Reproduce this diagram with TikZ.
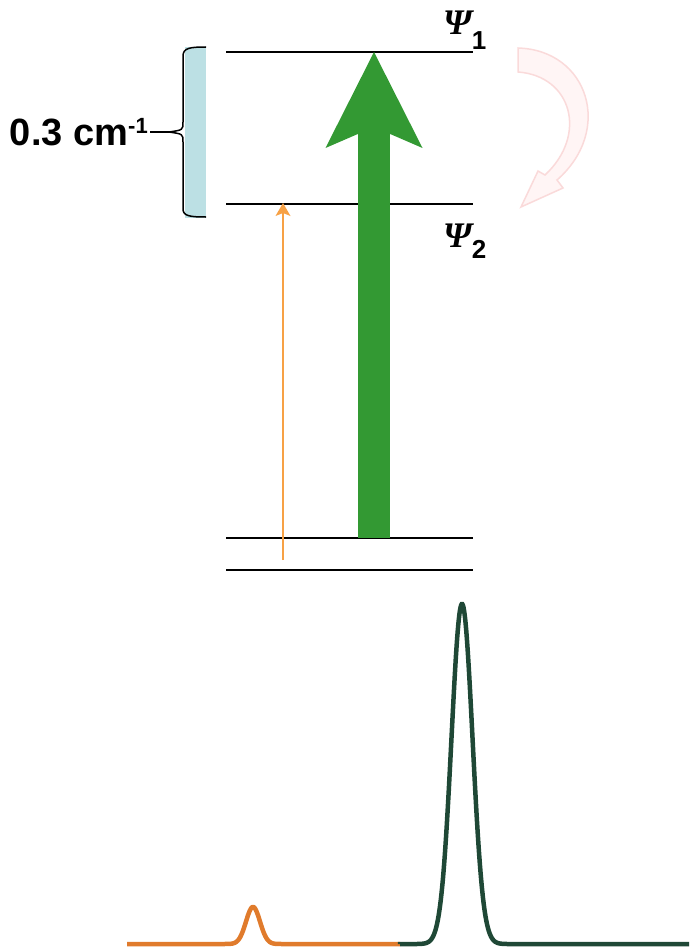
\documentclass[tikz,border=0pt]{standalone}
\usepackage{fontspec}
\setmainfont{Liberation Sans}
\newfontfamily\psifont{Liberation Serif}
\usepackage{tikz}
\usetikzlibrary{
    positioning,
    arrows.meta
}
\definecolor{verdeflecha}{HTML}{339933}
\definecolor{naranjaflecha}{HTML}{F7A145}
\definecolor{azulllave}{HTML}{BCE0E4}
\definecolor{rosafondo}{HTML}{FFF5F5}
\definecolor{rosaborde}{HTML}{FADADA}
\definecolor{naranjaesp}{HTML}{E07B2C}
\definecolor{verdeesp}{HTML}{1F4836}
\tikzset{
    nivel/.style={
        line width=2pt
    },
    etiqueta/.style={
        inner sep=0pt,
        font=\bfseries
    }
}

\begin{document}
\begin{tikzpicture}[
    x=1pt,
    y=-1pt
]
    \useasboundingbox (0,0) rectangle (689,950);

    % Niveles
    \coordinate (n1a) at (226,52);
    \coordinate (n1b) at (473,52);
    \coordinate (n2a) at (226,204);
    \coordinate (n2b) at (473,204);
    \coordinate (n3a) at (226,538);
    \coordinate (n3b) at (473,538);
    \coordinate (n4a) at (226,570);
    \coordinate (n4b) at (473,570);

    \draw[nivel] (n1a) -- (n1b);
    \draw[nivel] (n2a) -- (n2b);
    \draw[nivel] (n3a) -- (n3b);
    \draw[nivel] (n4a) -- (n4b);

    % Etiquetas
    \node[etiqueta, anchor=base west] (psi1) at (443,35)
        {{\psifont\fontsize{36}{36}\selectfont\bfseries\itshape Ψ}\raisebox{-15pt}{\fontsize{26}{26}\selectfont 1}};
    \node[etiqueta, anchor=base west] (psi2) at (443,247)
        {{\psifont\fontsize{36}{36}\selectfont\bfseries\itshape Ψ}\raisebox{-11pt}{\fontsize{26}{26}\selectfont 2}};

    % Llave
    \fill[azulllave] (185,47) rectangle (206,218);
    \coordinate (punta) at (169,132);
    \draw[line width=1.5pt]
        (206,47) .. controls (190,47) and (183,48) .. (183,56)
        -- (183,122) .. controls (183,130) .. (punta)
        .. controls (183,134) .. (183,142)
        -- (183,209) .. controls (183,216) and (190,217) .. (206,217);
    \node[etiqueta, anchor=base east] (ancho) at (148,145)
        {\fontsize{38}{38}\selectfont 0.3 cm\raisebox{12pt}{\fontsize{22}{22}\selectfont -1}};
    \draw[line width=1.5pt] (ancho.east |- punta) ++(2,0) -- (punta);

    % Flecha curva
    \draw[rosaborde, fill=rosafondo, line width=1.5pt]
        (518,48) .. controls (588,50) and (614,130) .. (557,180)
        -- (563,188) -- (521,207) -- (538,171) -- (545,175)
        .. controls (588,135) and (572,76) .. (518,72) -- cycle;

    % Flechas
    \coordinate (gbase) at (374,538);
    \coordinate (gtope) at (374,52);
    \coordinate (obase) at (283,560);
    \coordinate (otope) at (283,203);

    \draw[
        verdeflecha,
        line width=32pt,
        -{Stealth[length=96pt, width=97pt, inset=21pt, line width=0pt]}
    ] (gbase) -- (gtope);

    \draw[
        naranjaflecha,
        line width=2pt,
        -{Stealth[length=13pt, width=15pt, inset=3pt, line width=0pt]}
    ] (obase) -- (otope);

    % Espectro
    \draw[naranjaesp, line width=4.5pt]
        (127,944) -- (214,944)
        -- plot[domain=214:292, samples=120] (\x, {944-37*exp(-((\x-253)/7)^2/2)})
        -- (400,944);
    \draw[verdeesp, line width=4.5pt]
        (400,944) -- (400,944)
        -- plot[domain=400:524, samples=220] (\x, {944-340*exp(-((\x-462)/10.5)^2/2)})
        -- (689,944);

\end{tikzpicture}
\end{document}
